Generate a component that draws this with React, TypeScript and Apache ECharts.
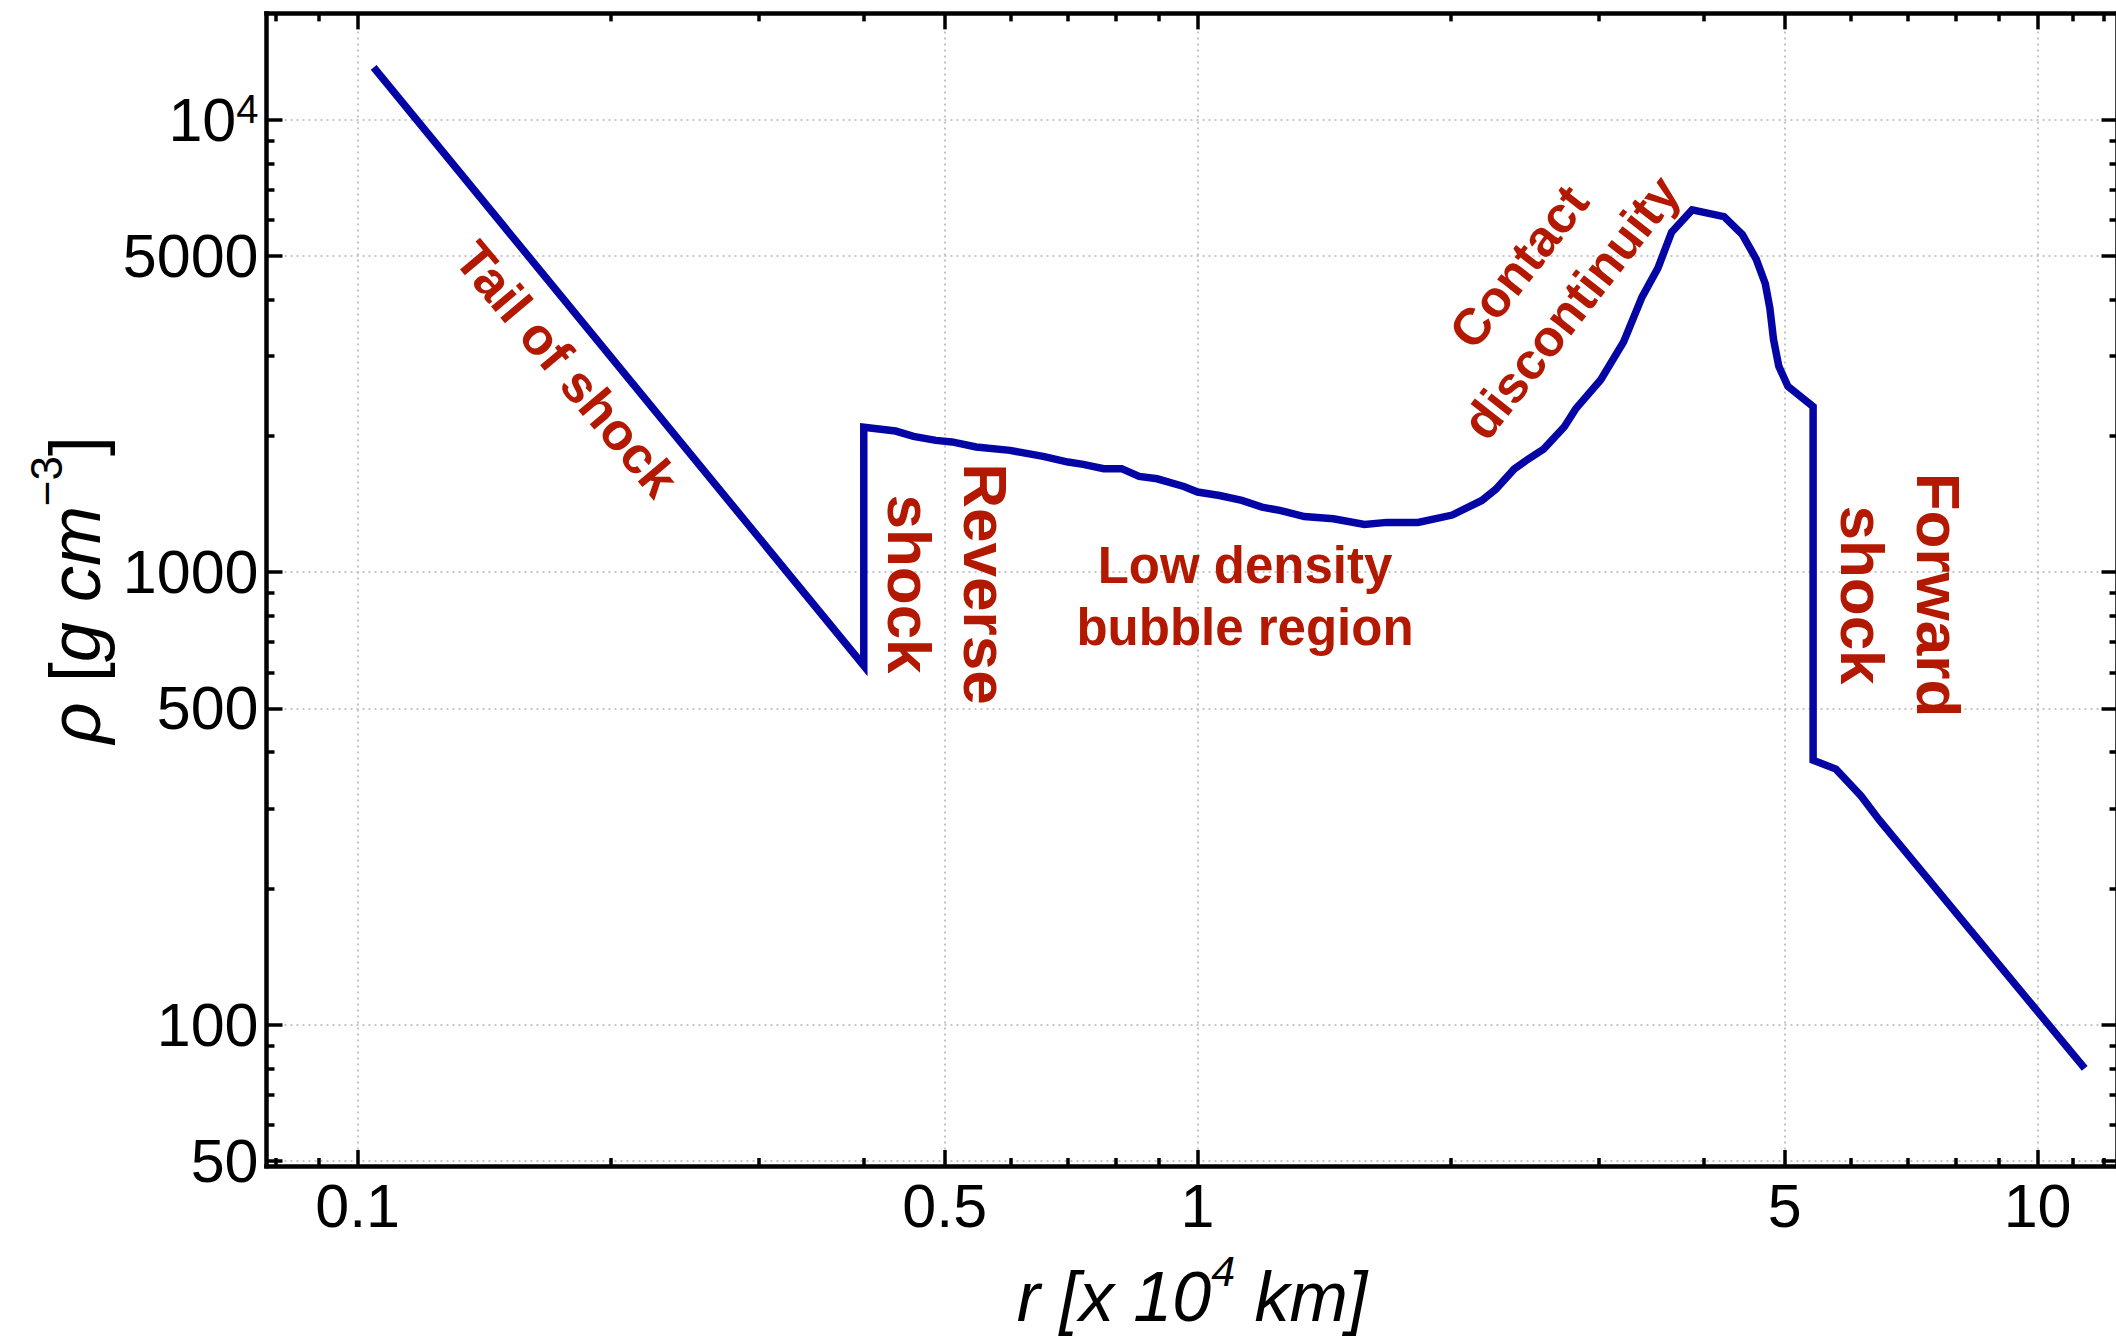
import React, { useEffect, useRef } from "react";
import * as echarts from "echarts";

// Radius (in 10^4 km) and density (g cm^-3) along the shocked flow
const radius = [
  0.1045, 0.4005, 0.4005, 0.437, 0.459, 0.488, 0.51, 0.545, 0.598, 0.655,
  0.701, 0.731, 0.773, 0.812, 0.852, 0.895, 0.963, 1.0, 1.062, 1.129,
  1.193, 1.253, 1.34, 1.451, 1.58, 1.68, 1.83, 2.01, 2.18, 2.265,
  2.381, 2.473, 2.582, 2.733, 2.819, 3.02, 3.215, 3.381, 3.532, 3.667,
  3.879, 4.234, 4.452, 4.624, 4.741, 4.801, 4.849, 4.92, 5.045, 5.405,
  5.405, 5.754, 6.164, 6.482, 11.38,
];
const density = [
  13050, 621, 2090, 2050, 1995, 1955, 1940, 1890, 1858, 1802,
  1751, 1730, 1693, 1693, 1627, 1608, 1546, 1503, 1477, 1440,
  1392, 1369, 1327, 1312, 1274, 1288, 1288, 1337, 1440, 1525,
  1689, 1776, 1870, 2096, 2295, 2661, 3228, 4053, 4697, 5638,
  6316, 6105, 5572, 4918, 4339, 3830, 3266, 2850, 2572, 2321,
  384, 367, 320, 283, 80,
];

const xMajorTicks = [0.1, 0.5, 1, 5, 10];
const xMinorTicks = [0.08, 0.09, 0.2, 0.3, 0.4, 0.6, 0.7, 0.8, 0.9, 2, 3, 4, 6, 7, 8, 9, 11, 12];
const yMajorTicks = [50, 100, 500, 1000, 5000, 10000];
const yMinorTicks = [60, 70, 80, 90, 200, 300, 400, 600, 700, 800, 900, 2000, 3000, 4000, 6000, 7000, 8000, 9000];

const X_MIN = 0.0779;
const X_MAX = 12.45;
const Y_MIN = 48.7;
const Y_MAX = 17170;

const FONT = '"Liberation Sans", Arial, Helvetica, sans-serif';
const LINE_COLOR = "#0505a6";
const NOTE_COLOR = "#b31900";

type Pos = "bottom" | "top" | "left" | "right";

function makeAxis(
  min: number,
  max: number,
  position: Pos,
  ticks: number[],
  tickLen: number,
  showLine: boolean,
  extra: Record<string, unknown> = {}
) {
  return {
    type: "log",
    logBase: 10,
    min,
    max,
    position,
    axisLine: {
      show: showLine,
      onZero: false,
      lineStyle: { color: "#000", width: 4.5, cap: "square" },
    },
    axisTick: {
      show: true,
      inside: true,
      length: tickLen,
      customValues: ticks,
      lineStyle: { color: "#000", width: 3.5 },
    },
    axisLabel: { show: false },
    splitLine: { show: false },
    minorTick: { show: false },
    minorSplitLine: { show: false },
    ...extra,
  };
}

const gridLine = {
  show: true,
  lineStyle: { color: "#b4b4b4", width: 1.6, type: [2, 4] },
};

function note(
  text: string,
  x: number,
  y: number,
  fontSize: number,
  lineHeight: number,
  rotationDeg = 0
) {
  return {
    type: "text",
    x,
    y,
    rotation: (rotationDeg * Math.PI) / 180,
    z: 10,
    style: {
      text,
      fill: NOTE_COLOR,
      fontFamily: FONT,
      fontWeight: "bold",
      fontSize,
      lineHeight,
      align: "center",
      verticalAlign: "middle",
    },
  };
}

export default function App() {
  const ref = useRef<HTMLDivElement>(null);

  useEffect(() => {
    document.body.style.margin = "0";
    if (!ref.current) return;
    const chart = echarts.init(ref.current, null, { renderer: "svg" });

    const data = radius.map((r, i) => [r, density[i]]);

    chart.setOption({
      animation: false,
      backgroundColor: "#fff",
      grid: {
        left: 266.5,
        top: 13.4,
        width: 1851,
        height: 1152.6,
        containLabel: false,
        outerBoundsMode: "none",
      },
      xAxis: [
        makeAxis(X_MIN, X_MAX, "bottom", xMajorTicks, 16, true, {
          axisLabel: {
            show: true,
            customValues: xMajorTicks,
            margin: 9,
            color: "#000",
            fontFamily: FONT,
            fontSize: 61,
            formatter: (v: number) => String(v),
          },
          splitLine: gridLine,
          name: "{i|r [x 10}{sup|4}{i| km]}",
          nameLocation: "middle",
          nameGap: 83,
          nameTextStyle: {
            color: "#000",
            fontFamily: FONT,
            fontSize: 70,
            fontStyle: "italic",
            rich: {
              i: { fontFamily: FONT, fontSize: 70, fontStyle: "italic", lineHeight: 96, color: "#000" },
              sup: { fontFamily: FONT, fontSize: 43, fontStyle: "italic", lineHeight: 43, verticalAlign: "top", color: "#000" },
            },
          },
        }),
        makeAxis(X_MIN, X_MAX, "top", xMajorTicks, 16, true),
        makeAxis(X_MIN, X_MAX, "bottom", xMinorTicks, 8, false),
        makeAxis(X_MIN, X_MAX, "top", xMinorTicks, 8, false),
      ],
      yAxis: [
        makeAxis(Y_MIN, Y_MAX, "left", yMajorTicks, 16, true, {
          axisLabel: {
            show: true,
            customValues: yMajorTicks,
            margin: 8,
            color: "#000",
            fontFamily: FONT,
            fontSize: 61,
            formatter: (v: number) =>
              Math.abs(v - 10000) < 1 ? "{b|10}{s|4}" : String(Math.round(v)),
            rich: {
              b: { fontFamily: FONT, fontSize: 61, lineHeight: 61, color: "#000" },
              s: { fontFamily: FONT, fontSize: 40, lineHeight: 40, verticalAlign: "top", color: "#000" },
            },
          },
          splitLine: gridLine,
          name: "{i|ρ}{u| [}{i|g cm}{sup|−3}{u|]}",
          nameLocation: "middle",
          nameGap: 142,
          nameRotate: 90,
          nameTextStyle: {
            color: "#000",
            fontFamily: FONT,
            fontSize: 72,
            rich: {
              i: { fontFamily: FONT, fontSize: 72, fontStyle: "italic", lineHeight: 100, color: "#000" },
              u: { fontFamily: FONT, fontSize: 72, lineHeight: 100, color: "#000" },
              sup: { fontFamily: FONT, fontSize: 44, lineHeight: 44, verticalAlign: "top", color: "#000" },
            },
          },
        }),
        makeAxis(Y_MIN, Y_MAX, "right", yMajorTicks, 16, true),
        makeAxis(Y_MIN, Y_MAX, "left", yMinorTicks, 8, false),
        makeAxis(Y_MIN, Y_MAX, "right", yMinorTicks, 8, false),
      ],
      series: [
        {
          type: "line",
          xAxisIndex: 0,
          yAxisIndex: 0,
          data,
          showSymbol: false,
          symbol: "none",
          silent: true,
          clip: true,
          z: 5,
          lineStyle: { color: LINE_COLOR, width: 7.5, join: "miter" },
        },
      ],
      graphic: [
        note("Tail of shock", 567, 369, 52, 62, -50),
        note("Reverse\nshock", 947, 584, 62, 76, -90),
        note("Low density\nbubble region", 1245, 596, 51, 62, 0),
        note("Contact\ndiscontinuity", 1545, 287, 51, 66, 52),
        note("Forward\nshock", 1900, 595, 62, 76, -90),
      ],
    });

    return () => chart.dispose();
  }, []);

  return <div ref={ref} style={{ width: 2116, height: 1339 }} />;
}
